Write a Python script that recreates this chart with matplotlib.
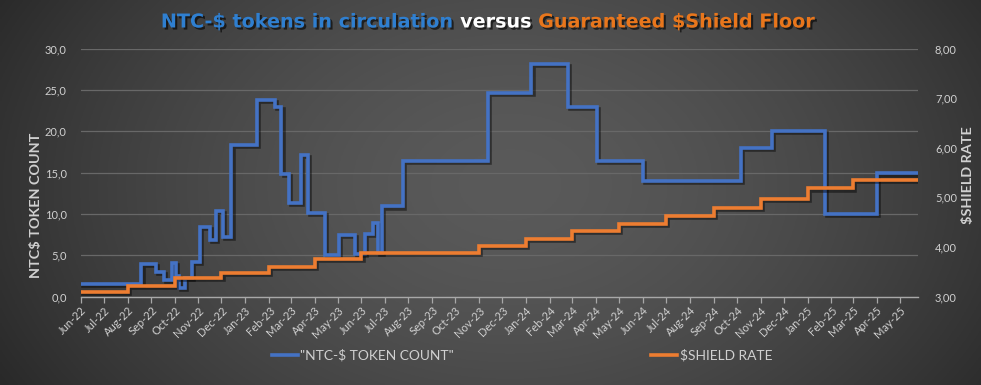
import matplotlib
matplotlib.use("Agg")
import matplotlib.pyplot as plt
import matplotlib.dates as mdates
import matplotlib.patheffects as pe
from matplotlib.ticker import FuncFormatter, MultipleLocator
from matplotlib.lines import Line2D
import numpy as np
import pandas as pd

# ---------------- data ----------------
token_dates = ['2022-06-01', '2022-08-19', '2022-09-07', '2022-09-17', '2022-09-28',
               '2022-10-03', '2022-10-07', '2022-10-14', '2022-10-24', '2022-11-03',
               '2022-11-16', '2022-11-24', '2022-12-03', '2022-12-14', '2023-01-16',
               '2023-02-08', '2023-02-17', '2023-02-27', '2023-03-14', '2023-03-24',
               '2023-04-15', '2023-05-03', '2023-05-23', '2023-06-06', '2023-06-16',
               '2023-06-22', '2023-06-28', '2023-07-25', '2023-11-13', '2024-01-08',
               '2024-02-25', '2024-04-02', '2024-06-01', '2024-10-07', '2024-11-16',
               '2025-01-24', '2025-04-01', '2025-05-23']
token_count = [1.5, 3.9, 3.0, 2.0, 4.1,
               2.5, 1.0, 2.2, 4.2, 8.4,
               6.8, 10.4, 7.2, 18.3, 23.8,
               23.0, 14.8, 11.3, 17.1, 10.1,
               5.0, 7.5, 5.1, 7.6, 8.85,
               5.3, 10.9, 16.4, 24.6, 28.2,
               23.0, 16.4, 14.0, 18.0, 20.0,
               10.0, 14.9, 14.9]

shield_dates = ['2022-06-01', '2022-08-01', '2022-10-01', '2022-12-01', '2023-02-01',
                '2023-04-01', '2023-06-01', '2023-11-01', '2024-01-01', '2024-03-01',
                '2024-05-01', '2024-07-01', '2024-09-01', '2024-11-01', '2025-01-01',
                '2025-03-01', '2025-05-23']
shield_rate = [3.10, 3.22, 3.37, 3.47, 3.60,
               3.76, 3.88, 4.02, 4.16, 4.32,
               4.47, 4.62, 4.78, 4.96, 5.18,
               5.36, 5.36]

title_parts = [("NTC-$ tokens in circulation ", "#2f7fd0"),
               ("versus ", "#ffffff"),
               ("Guaranteed $Shield Floor", "#e8761c")]
left_label = "NTC$ TOKEN COUNT"
right_label = "$SHIELD RATE"
legend_labels = ['"NTC-$ TOKEN COUNT"', '$SHIELD RATE']

BLUE = "#4472C4"
ORANGE = "#ED7D31"
TXT = "#d0d0d0"
FONT = ["Lato", "DejaVu Sans"]

plt.rcParams['font.family'] = FONT

W, H = 981, 385
fig = plt.figure(figsize=(W / 100, H / 100), dpi=100)

# ---------------- background gradient ----------------
bg = fig.add_axes([0, 0, 1, 1], zorder=0)
yy, xx = np.mgrid[0:1:200j, 0:1:400j]
r = np.sqrt(((xx - 0.52) / 0.62) ** 2 + ((yy - 0.52) / 1.1) ** 2)
r = np.clip(r, 0, 1)
val = 0x5a - (0x5a - 0x26) * r ** 1.6
img = np.dstack([val, val, val]) / 255.0
bg.imshow(img, extent=[0, 1, 0, 1], aspect='auto', origin='lower')
bg.set_axis_off()

# ---------------- axes ----------------
x0, x1 = 80.7, 918.3
y0, y1 = 296.5, 48.7
ax = fig.add_axes([x0 / W, (H - y0) / H, (x1 - x0) / W, (y0 - y1) / H], zorder=1)
ax.patch.set_alpha(0)
ax2 = ax.twinx()
ax2.set_zorder(2)
ax2.patch.set_alpha(0)

td = pd.to_datetime(token_dates)
sd = pd.to_datetime(shield_dates)

shadow = [pe.SimpleLineShadow(offset=(1.5, -1.5), shadow_color='black', alpha=0.45), pe.Normal()]
ax.step(td, token_count, where='post', color=BLUE, lw=2.6, path_effects=shadow, solid_joinstyle='miter')
ax2.step(sd, shield_rate, where='post', color=ORANGE, lw=2.6, path_effects=shadow, solid_joinstyle='miter')

ax.set_xlim(pd.Timestamp('2022-06-01'), pd.Timestamp('2025-05-25'))
ax.set_ylim(0, 30)
ax2.set_ylim(3, 8)
ax.yaxis.set_major_locator(MultipleLocator(5))
ax2.yaxis.set_major_locator(MultipleLocator(1))
ax.yaxis.set_major_formatter(FuncFormatter(lambda v, p: f"{v:.1f}".replace('.', ',')))
ax2.yaxis.set_major_formatter(FuncFormatter(lambda v, p: f"{v:.2f}".replace('.', ',')))

ax.xaxis.set_major_locator(mdates.MonthLocator())
ax.xaxis.set_major_formatter(mdates.DateFormatter('%b-%y'))

for a in (ax, ax2):
    for s in a.spines.values():
        s.set_visible(False)
ax.spines['bottom'].set_visible(True)
ax.spines['bottom'].set_color('#a8a8a8')
ax.spines['bottom'].set_linewidth(1.0)

ax.grid(axis='y', color='#686868', lw=0.9)
ax.set_axisbelow(True)
ax.tick_params(axis='y', length=0, pad=10, labelsize=8, labelcolor=TXT)
ax2.tick_params(axis='y', length=0, pad=12, labelsize=8, labelcolor=TXT)
ax.tick_params(axis='x', length=4, color='#a8a8a8', width=0.9, pad=2, labelsize=8, labelcolor=TXT)
for lbl in ax.get_xticklabels():
    lbl.set_rotation(45)
    lbl.set_ha('right')
    lbl.set_rotation_mode('anchor')

# axis titles
fig.text(36.5 / W, 1 - 205 / H, left_label, rotation=90, ha='center', va='center',
         fontsize=10.4, fontweight='bold', color=TXT)
fig.text(968 / W, 1 - 175 / H, right_label, rotation=90, ha='center', va='center',
         fontsize=10.4, fontweight='bold', color=TXT)

# legend (manual)
leg_y = 1 - 355 / H
for (hx0, hx1, tx, lab, col) in [(272, 298, 300, legend_labels[0], BLUE),
                                 (651, 677, 680, legend_labels[1], ORANGE)]:
    fig.add_artist(Line2D([hx0 / W, hx1 / W], [leg_y, leg_y], color=col, lw=2.6,
                          transform=fig.transFigure))
    fig.text(tx / W, leg_y, lab, ha='left', va='center', fontsize=9.9, color=TXT)

# multicolour title
fig.canvas.draw()
renderer = fig.canvas.get_renderer()
tshadow = [pe.SimplePatchShadow(offset=(1.5, -1.5), shadow_rgbFace='black', alpha=0.6), pe.Normal()]
texts = []
for s, c in title_parts:
    t = fig.text(0, 1 - 22 / H, s, ha='left', va='center', fontsize=13.8, fontweight='bold',
                 color=c, family=["DejaVu Sans"], path_effects=tshadow)
    texts.append(t)
widths = [t.get_window_extent(renderer).width for t in texts]
total = sum(widths)
start = 488 - total / 2
for t, w in zip(texts, widths):
    t.set_x(start / W)
    start += w

fig.savefig("out.png", dpi=100)
